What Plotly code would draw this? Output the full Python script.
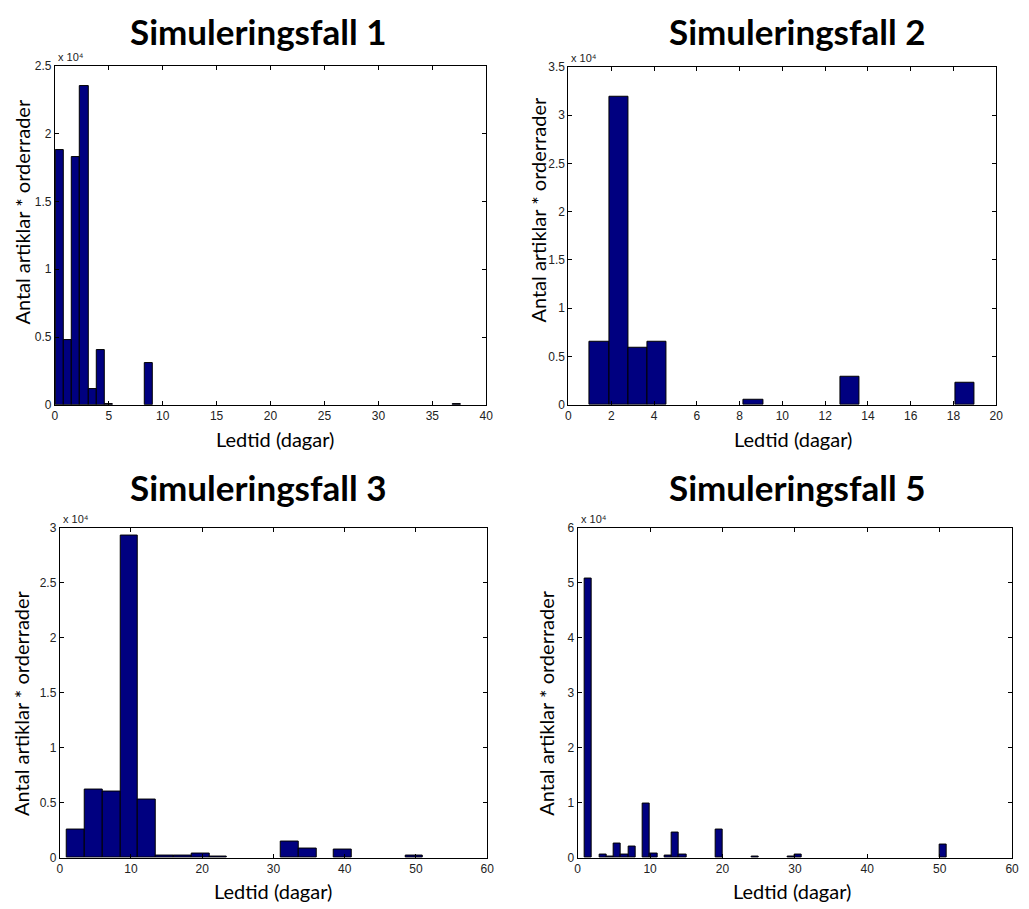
import plotly.graph_objects as go

# ---------------- data ----------------
titles = ["Simuleringsfall 1", "Simuleringsfall 2", "Simuleringsfall 3", "Simuleringsfall 5"]
x_label = "Ledtid (dagar)"
y_label = "Antal artiklar * orderrader"
exponent_label = "x 10\u2074"

# Simuleringsfall 1 (bin width 0.75)
fall1_centers = [0.485, 1.235, 1.985, 2.735, 3.485, 4.235, 4.985, 8.735, 37.235]
fall1_counts = [18770, 4750, 18270, 23520, 1190, 4020, 60, 3080, 60]
fall1_width = 0.75

# Simuleringsfall 2 (bin width 0.9)
fall2_centers = [1.45, 2.35, 3.25, 4.15, 8.65, 13.15, 18.55]
fall2_counts = [6560, 31940, 5950, 6550, 510, 2850, 2240]
fall2_width = 0.9

# Simuleringsfall 3 (bin width 2.5)
fall3_centers = [2.25, 4.75, 7.25, 9.75, 12.25, 14.75, 17.25, 19.75, 22.25, 32.25, 34.75, 39.75, 49.75]
fall3_counts = [2550, 6230, 6050, 29290, 5250, 150, 150, 420, 90, 1490, 865, 775, 180]
fall3_width = 2.5

# Simuleringsfall 5 (bin width 1.0)
fall5_centers = [1.5, 3.5, 4.5, 5.5, 6.5, 7.5, 9.5, 10.5, 12.5, 13.5, 14.5, 19.5, 24.5, 29.5, 30.5, 50.5]
fall5_counts = [50690, 660, 180, 2600, 660, 2090, 9900, 800, 300, 4500, 480, 5200, 180, 180, 540, 2400]
fall5_width = 1.0

# axis ranges and ticks
x_ranges = [[0, 40], [0, 20], [0, 60], [0, 60]]
x_dticks = [5, 2, 10, 10]
y_tickvals = [
    [0, 5000, 10000, 15000, 20000, 25000],
    [0, 5000, 10000, 15000, 20000, 25000, 30000, 35000],
    [0, 5000, 10000, 15000, 20000, 25000, 30000],
    [0, 10000, 20000, 30000, 40000, 50000, 60000],
]
y_ticktext = [
    ["0", "0.5", "1", "1.5", "2", "2.5"],
    ["0", "0.5", "1", "1.5", "2", "2.5", "3", "3.5"],
    ["0", "0.5", "1", "1.5", "2", "2.5", "3"],
    ["0", "1", "2", "3", "4", "5", "6"],
]

series = [
    (fall1_centers, fall1_counts, fall1_width),
    (fall2_centers, fall2_counts, fall2_width),
    (fall3_centers, fall3_counts, fall3_width),
    (fall5_centers, fall5_counts, fall5_width),
]

# ---------------- layout (pixel geometry) ----------------
W, H = 1029, 909
# plot boxes in pixels: (left, right, top, bottom)
boxes = [
    (52.3, 488.0, 60.0, 404.0),
    (571.0, 1003.0, 60.7, 404.0),
    (57.3, 489.0, 528.7, 864.0),
    (580.3, 1019.0, 528.7, 864.0),
]
title_pos = [(258, 24), (802, 24), (258, 488), (802, 488)]
xlab_pos = [(275, 439), (798, 439), (273, 898), (797, 898)]
ylab_pos = [(19, 208), (540, 206), (18, 707), (548, 707)]

bar_color = "#000080"
tick_font = dict(family="Liberation Sans, Arial, sans-serif", size=12, color="#222222")
title_font = dict(family="Lato, Carlito, sans-serif", size=35, color="black", weight="bold")
label_font = dict(family="Lato, Carlito, sans-serif", size=20, color="black")
exp_font = dict(family="Liberation Sans, Arial, sans-serif", size=11, color="#222222")

fig = go.Figure()
annotations = []
layout_axes = {}


def px2x(px):
    return px / W


def px2y(py):
    return 1 - py / H


for i, ((cx, cy, w), box) in enumerate(zip(series, boxes)):
    n = "" if i == 0 else str(i + 1)
    fig.add_trace(go.Bar(
        x=cx, y=cy, width=w,
        marker=dict(color=bar_color, line=dict(color="black", width=1)),
        xaxis="x" + n, yaxis="y" + n, showlegend=False,
    ))
    l, r, t, b = box
    common = dict(showline=True, linecolor="black", linewidth=1, mirror="ticks",
                  ticks="inside", ticklen=4, tickcolor="black", showgrid=False,
                  zeroline=False, tickfont=tick_font)
    layout_axes["xaxis" + n] = dict(domain=[px2x(l), px2x(r)], range=x_ranges[i],
                                    dtick=x_dticks[i], tick0=0, anchor="y" + n, **common)
    layout_axes["yaxis" + n] = dict(domain=[px2y(b), px2y(t)],
                                    range=[0, y_tickvals[i][-1]],
                                    tickvals=y_tickvals[i], ticktext=y_ticktext[i],
                                    anchor="x" + n, **common)
    # title
    tx, ty = title_pos[i]
    annotations.append(dict(text=titles[i], x=px2x(tx), y=px2y(ty),
                            xref="paper", yref="paper", showarrow=False,
                            xanchor="center", yanchor="middle", font=title_font))
    # x label
    lx, ly = xlab_pos[i]
    annotations.append(dict(text=x_label, x=px2x(lx), y=px2y(ly), xref="paper", yref="paper",
                            showarrow=False, xanchor="center", yanchor="middle", font=label_font))
    # y label
    yx, yy = ylab_pos[i]
    annotations.append(dict(text=y_label, x=px2x(yx), y=px2y(yy), xref="paper", yref="paper",
                            showarrow=False, xanchor="center", yanchor="middle", textangle=-90,
                            font=label_font))
    # exponent
    annotations.append(dict(text=exponent_label, x=px2x(l + 1), y=px2y(t - 1),
                            xref="paper", yref="paper", showarrow=False,
                            xanchor="left", yanchor="bottom", font=exp_font))

fig.update_layout(
    width=W, height=H,
    margin=dict(l=0, r=0, t=0, b=0),
    paper_bgcolor="white", plot_bgcolor="white",
    bargap=0,
    hovermode=False,
    annotations=annotations,
    **layout_axes,
)

fig.write_html(
    "out.html",
    config={"displayModeBar": False},
    post_script="document.body.style.margin='0';document.body.style.overflow='hidden';",
)
